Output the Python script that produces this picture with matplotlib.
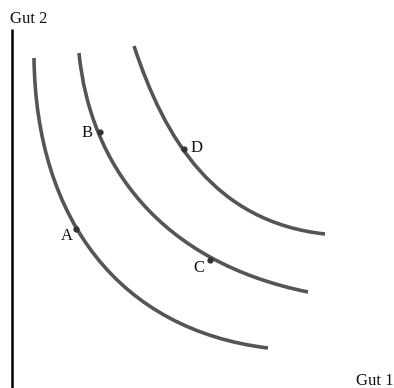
import matplotlib
matplotlib.use("Agg")
import matplotlib.pyplot as plt
from matplotlib.path import Path
from matplotlib.patches import PathPatch

# Indifference curves: cubic Bezier control points
# (pixel-like units: x to the right, y downward)
curve1_x = [34, 36, 120, 268]
curve1_y = [58, 220, 330, 348]
curve2_x = [79, 90, 160, 308]
curve2_y = [53, 165, 262, 292]
curve3_x = [134, 165, 215, 325]
curve3_y = [46, 140, 222, 234]

point_labels = ["A", "B", "C", "D"]
point_x = [76, 100, 210, 184]
point_y = [229, 132, 260, 149]
label_x = [67, 87, 199, 197]
label_y = [236, 133, 268, 148]

axis_x_label = "Gut 1"
axis_y_label = "Gut 2"

fig = plt.figure(figsize=(3.94, 3.88), dpi=100)
ax = fig.add_axes([0, 0, 1, 1])
ax.set_xlim(0, 394)
ax.set_ylim(388, 0)
ax.axis("off")

curve_color = "#555555"
codes = [Path.MOVETO, Path.CURVE4, Path.CURVE4, Path.CURVE4]
for xs, ys in [(curve1_x, curve1_y), (curve2_x, curve2_y), (curve3_x, curve3_y)]:
    path = Path(list(zip(xs, ys)), codes)
    patch = PathPatch(path, facecolor="none", edgecolor=curve_color, lw=2.6,
                      capstyle="butt")
    ax.add_patch(patch)

ax.plot(point_x, point_y, "o", color="#333333", ms=3.5, zorder=3)

font = dict(family=["Liberation Serif", "DejaVu Serif"], fontsize=12, color="#111111")
for lab, lx, ly in zip(point_labels, label_x, label_y):
    ax.text(lx, ly, lab, ha="center", va="center", **font)

# vertical axis
ax.plot([12.5, 12.5], [29, 388], color="black", lw=1.8, solid_capstyle="butt")

ax.text(10, 19, axis_y_label, ha="left", va="center", **font)
ax.text(356, 381, axis_x_label, ha="left", va="center", **font)

fig.savefig("out.png", dpi=100)
